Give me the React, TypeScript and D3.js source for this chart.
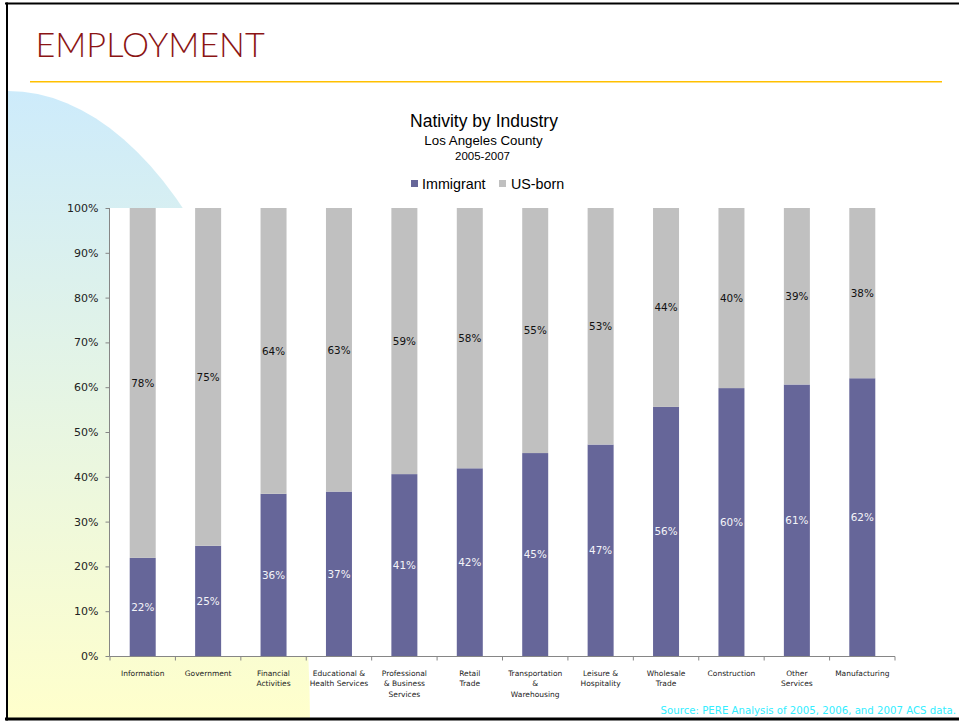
import React from "react";
import * as d3 from "d3";

const categories = [
  "Information",
  "Government",
  "Financial|Activities",
  "Educational &|Health Services",
  "Professional|& Business|Services",
  "Retail|Trade",
  "Transportation|&|Warehousing",
  "Leisure &|Hospitality",
  "Wholesale|Trade",
  "Construction",
  "Other|Services",
  "Manufacturing",
];
const immigrant = [21.9, 24.6, 36.2, 36.7, 40.6, 41.9, 45.3, 47.2, 55.6, 59.8, 60.6, 62.0];
const usBorn = [78.1, 75.4, 63.8, 63.3, 59.4, 58.1, 54.7, 52.8, 44.4, 40.2, 39.4, 38.0];
const yTicks = [0, 10, 20, 30, 40, 50, 60, 70, 80, 90, 100];
const seriesNames = ["Immigrant", "US-born"];

const W = 959;
const H = 723;
const COL_IMM = "#666699";
const COL_US = "#C0C0C0";
const AXIS = "#868686";
const NUM_FONT = "'DejaVu Sans', Verdana, sans-serif";
const SANS = "'Liberation Sans', Arial, sans-serif";

export default function App() {
  const x = d3
    .scaleBand<string>()
    .domain(categories)
    .range([110, 895])
    .paddingInner(0.6026)
    .paddingOuter(0.3013);
  const y = d3.scaleLinear().domain([0, 100]).range([656, 208]);
  const step = x.step();
  const boundaries = d3.range(categories.length + 1).map((i) => 110 + i * step);

  return (
    <svg
      width={W}
      height={H}
      style={{ position: "absolute", left: 0, top: 0, display: "block" }}
      xmlns="http://www.w3.org/2000/svg"
    >
      <defs>
        <linearGradient id="bgGrad" gradientUnits="userSpaceOnUse" x1="0" y1="91" x2="0" y2="718">
          <stop offset="0" stopColor="#CDEBFB" />
          <stop offset="1" stopColor="#FFFFCC" />
        </linearGradient>
        <clipPath id="slideClip">
          <rect x={8} y={0} width={W} height={718} />
        </clipPath>
      </defs>
      <rect x={0} y={0} width={W} height={H} fill="#ffffff" />
      {/* decorative gradient shape */}
      <ellipse cx={8} cy={725} rx={302} ry={634} fill="url(#bgGrad)" clipPath="url(#slideClip)" />

      {/* slide title */}
      <text
        x={35.5}
        y={57}
        fontFamily="Lato, 'Open Sans', sans-serif"
        fontWeight={300}
        fontSize={34.2}
        fill="#8B1414"
      >
        EMPLOYMENT
      </text>
      <line x1={30} x2={942} y1={81.8} y2={81.8} stroke="#FFC000" strokeWidth={1.6} />

      {/* chart titles */}
      <text x={484} y={127} textAnchor="middle" fontFamily={SANS} fontSize={17.5} fill="#000">
        Nativity by Industry
      </text>
      <text x={483.5} y={145} textAnchor="middle" fontFamily={SANS} fontSize={13.3} fill="#000">
        Los Angeles County
      </text>
      <text x={482.5} y={160} textAnchor="middle" fontFamily={SANS} fontSize={11.5} fill="#000">
        2005-2007
      </text>

      {/* legend */}
      <rect x={411} y={180} width={7} height={7} fill={COL_IMM} />
      <text x={422} y={188.5} fontFamily={SANS} fontSize={14.3} fill="#000">
        {seriesNames[0]}
      </text>
      <rect x={499} y={180} width={7} height={7} fill={COL_US} />
      <text x={511} y={188.5} fontFamily={SANS} fontSize={14.3} fill="#000">
        {seriesNames[1]}
      </text>

      {/* plot area */}
      <rect x={110} y={208} width={785} height={448} fill="#ffffff" />

      {/* bars */}
      {categories.map((c, i) => {
        const bx = x(c)!;
        const bw = x.bandwidth();
        const y0 = y(0);
        const y1 = y(immigrant[i]);
        const y2 = y(immigrant[i] + usBorn[i]);
        return (
          <g key={c}>
            <rect x={bx} y={y1} width={bw} height={y0 - y1} fill={COL_IMM} />
            <rect x={bx} y={y2} width={bw} height={y1 - y2} fill={COL_US} />
            <text
              x={bx + bw / 2}
              y={(y0 + y1) / 2}
              dy="0.36em"
              textAnchor="middle"
              fontFamily={NUM_FONT}
              fontSize={10.4}
              fill="#F4F4F8"
            >
              {Math.round(immigrant[i])}%
            </text>
            <text
              x={bx + bw / 2}
              y={(y1 + y2) / 2}
              dy="0.36em"
              textAnchor="middle"
              fontFamily={NUM_FONT}
              fontSize={10.4}
              fill="#111"
            >
              {Math.round(usBorn[i])}%
            </text>
          </g>
        );
      })}

      {/* y axis */}
      <line x1={109.5} x2={109.5} y1={208} y2={656.5} stroke={AXIS} strokeWidth={1} />
      {yTicks.map((t) => (
        <g key={t}>
          <line x1={105.5} x2={109.5} y1={y(t) + 0.5} y2={y(t) + 0.5} stroke={AXIS} />
          <text
            x={98.5}
            y={y(t)}
            dy="0.36em"
            textAnchor="end"
            fontFamily={NUM_FONT}
            fontSize={11}
            fill="#222"
          >
            {t}%
          </text>
        </g>
      ))}

      {/* x axis */}
      <line x1={109.5} x2={895} y1={656.5} y2={656.5} stroke={AXIS} strokeWidth={1} />
      {boundaries.map((b, i) => (
        <line key={i} x1={b} x2={b} y1={656.5} y2={660.5} stroke={AXIS} />
      ))}
      {categories.map((c) => {
        const cx = x(c)! + x.bandwidth() / 2;
        return (
          <text
            key={c}
            x={cx}
            y={676}
            textAnchor="middle"
            fontFamily={NUM_FONT}
            fontSize={7.5}
            fill="#222"
          >
            {c.split("|").map((ln, j) => (
              <tspan key={j} x={cx} dy={j === 0 ? 0 : 10.3}>
                {ln}
              </tspan>
            ))}
          </text>
        );
      })}

      {/* source */}
      <text
        x={956}
        y={714}
        textAnchor="end"
        fontFamily={NUM_FONT}
        fontSize={10.2}
        fill="#33EEFF"
      >
        Source: PERE Analysis of 2005, 2006, and 2007 ACS data.
      </text>

      {/* slide border */}
      <line x1={5} x2={W} y1={3.5} y2={3.5} stroke="#000" strokeWidth={2} />
      <line x1={7} x2={7} y1={2.5} y2={720.5} stroke="#000" strokeWidth={2} />
      <line x1={5} x2={W} y1={719} y2={719} stroke="#000" strokeWidth={3} />
    </svg>
  );
}
